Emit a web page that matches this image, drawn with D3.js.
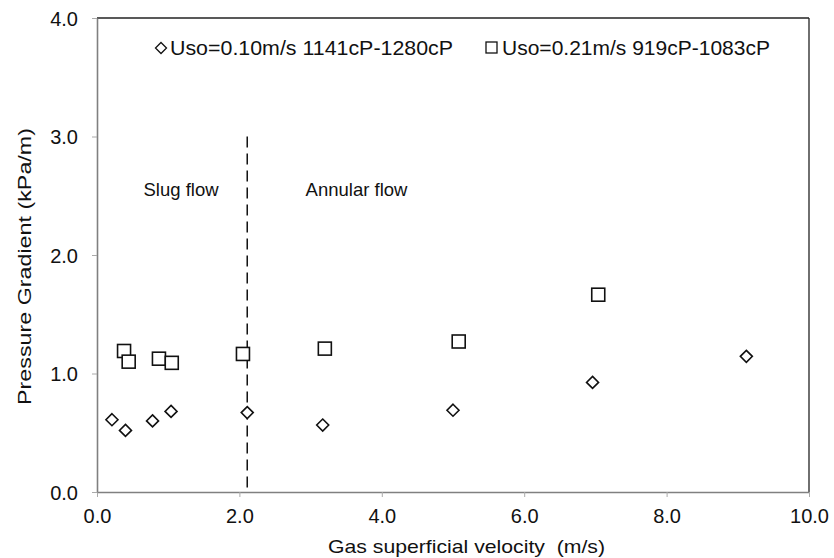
<!DOCTYPE html>
<html><head><meta charset="utf-8">
<script src="https://cdn.jsdelivr.net/npm/d3@7"></script>
<style>body{margin:0;background:#fff}svg{display:block;font-family:"Liberation Sans",Arial,sans-serif}</style>
</head><body>
<svg id="c" width="834" height="558"></svg>
<script>
const series1Name = "Uso=0.10m/s 1141cP-1280cP";
const series1X = [0.21, 0.40, 0.78, 1.04, 2.11, 3.17, 5.00, 6.96, 9.12];
const series1Y = [0.61, 0.52, 0.60, 0.68, 0.67, 0.565, 0.69, 0.925, 1.145];
const series2Name = "Uso=0.21m/s 919cP-1083cP";
const series2X = [0.38, 0.445, 0.87, 1.05, 2.05, 3.20, 5.08, 7.04];
const series2Y = [1.19, 1.10, 1.125, 1.09, 1.165, 1.21, 1.27, 1.665];
const xTicks = [0, 2, 4, 6, 8, 10];
const yTicks = [0, 1, 2, 3, 4];
const boundaryX = 2.11;
const boundaryTop = 3.0;
const regionLabels = ["Slug flow", "Annular flow"];
const regionX = [1.18, 3.645];
const regionY = [2.5, 2.5];

const svg = d3.select("#c");
const x = d3.scaleLinear().domain([0, 10]).range([97, 809]);
const y = d3.scaleLinear().domain([0, 4]).range([492, 18]);

// frame top/right
svg.append("line").attr("x1", x(0)).attr("x2", x(10)).attr("y1", y(4)).attr("y2", y(4)).attr("stroke", "#222").attr("stroke-width", 1.3);
svg.append("line").attr("x1", x(10)).attr("x2", x(10)).attr("y1", y(4)).attr("y2", y(0)).attr("stroke", "#222").attr("stroke-width", 1.3);

const xAxis = svg.append("g").attr("transform", `translate(0,${y(0)})`)
  .call(d3.axisBottom(x).tickValues(xTicks).tickFormat(d3.format(".1f")).tickSizeInner(5).tickSizeOuter(0));
const yAxis = svg.append("g").attr("transform", `translate(${x(0)},0)`)
  .call(d3.axisLeft(y).tickValues(yTicks).tickFormat(d3.format(".1f")).tickSizeInner(5).tickSizeOuter(0));
[xAxis, yAxis].forEach(g => {
  g.select(".domain").attr("stroke", "#808080").attr("stroke-width", 1.6);
  g.selectAll(".tick line").attr("stroke", "#aaa");
  g.selectAll(".tick text").attr("font-size", 20).attr("fill", "#111").attr("font-family", "Liberation Sans, Arial, sans-serif");
});
xAxis.selectAll(".tick text").attr("y", 31).attr("dy", 0);
yAxis.selectAll(".tick text").attr("x", -19).attr("dy", "0.35em");

// boundary line
svg.append("line").attr("x1", x(boundaryX)).attr("x2", x(boundaryX)).attr("y1", y(boundaryTop)).attr("y2", y(0))
  .attr("stroke", "#111").attr("stroke-width", 1.5).attr("stroke-dasharray", "11,6");

// region labels
svg.selectAll("text.region").data(regionLabels).enter().append("text").attr("class", "region")
  .attr("x", (d, i) => x(regionX[i])).attr("y", (d, i) => y(regionY[i]))
  .attr("text-anchor", "middle").attr("font-size", 18.5).attr("fill", "#111").text(d => d);

const diamond = s => `M0,${-s}L${s},0L0,${s}L${-s},0Z`;
// series 1 diamonds
svg.selectAll("path.s1").data(series1X).enter().append("path").attr("class", "s1")
  .attr("d", diamond(6)).attr("transform", (d, i) => `translate(${x(d)},${y(series1Y[i])})`)
  .attr("fill", "#fff").attr("stroke", "#111").attr("stroke-width", 1.6);
// series 2 squares
svg.selectAll("rect.s2").data(series2X).enter().append("rect").attr("class", "s2")
  .attr("x", d => x(d) - 6.5).attr("y", (d, i) => y(series2Y[i]) - 6.5).attr("width", 13).attr("height", 13)
  .attr("fill", "#fff").attr("stroke", "#111").attr("stroke-width", 1.6);

// legend
const lg = svg.append("g");
lg.append("path").attr("d", diamond(5.5)).attr("transform", "translate(161,48)").attr("fill", "#fff").attr("stroke", "#111").attr("stroke-width", 1.3);
lg.append("text").attr("x", 170).attr("y", 55).attr("font-size", 21).attr("fill", "#111")
  .attr("textLength", 283).attr("lengthAdjust", "spacingAndGlyphs").text(series1Name);
lg.append("rect").attr("x", 486).attr("y", 42).attr("width", 11).attr("height", 11).attr("fill", "#fff").attr("stroke", "#111").attr("stroke-width", 1.3);
lg.append("text").attr("x", 502).attr("y", 55).attr("font-size", 21).attr("fill", "#111")
  .attr("textLength", 268).attr("lengthAdjust", "spacingAndGlyphs").text(series2Name);

// axis titles
svg.append("text").attr("x", 328).attr("y", 553).attr("font-size", 19).attr("fill", "#111")
  .attr("textLength", 277).attr("lengthAdjust", "spacingAndGlyphs")
  .style("white-space", "pre").text("Gas superficial velocity  (m/s)");
svg.append("text").attr("transform", "translate(31,405) rotate(-90)").attr("font-size", 19).attr("fill", "#111")
  .attr("textLength", 277).attr("lengthAdjust", "spacingAndGlyphs")
  .text("Pressure Gradient (kPa/m)");
</script>
</body></html>
